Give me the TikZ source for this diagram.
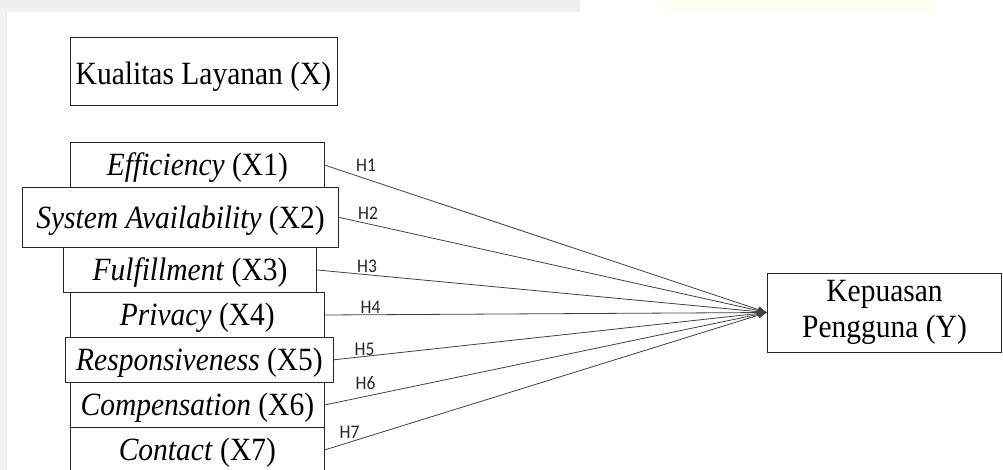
\documentclass[tikz,border=0pt]{standalone}
\usepackage{fontspec}
\setmainfont{Liberation Serif}
\newfontfamily\labfont{Carlito}
\usetikzlibrary{arrows.meta}
\newcommand\vstretch[1]{\scalebox{1}[1.1]{#1}}
\tikzset{
  box/.style={draw=black!85, line width=0.9pt, fill=white, inner sep=0pt,
    text height=21.7pt, text depth=0pt, font=\fontsize{29.5}{32.5}\selectfont},
  link/.style={draw=black!75, line width=0.8pt, -{Latex[length=9pt,width=7pt]}},
  hlab/.style={font=\labfont\fontsize{17.5}{19}\selectfont, inner sep=0pt, text=black!85},
}
\begin{document}
\begin{tikzpicture}[x=1pt,y=-1pt]
\useasboundingbox (0,0) rectangle (1003,470);
\clip (0,0) rectangle (1003,470);
% faint page background
\fill[black!6] (0,0) rectangle (580,12);
\fill[yellow!6] (660,0) rectangle (935,12);
\fill[black!5] (0,12) rectangle (7,470);

\node[box, minimum width=267pt, minimum height=68pt, text height=27.7pt] (kx) at (203.5,71) {\vstretch{Kualitas Layanan (X)}};

\node[box, minimum width=253.3pt, minimum height=44.6pt] (x1) at (197.35,165) {\vstretch{\textit{Efficiency} (X1)}};
\node[box, minimum width=315.6pt, minimum height=60pt] (x2) at (180.5,217.3) {\vstretch{\textit{System Availability} (X2)}};
\node[box, minimum width=253.4pt, minimum height=45.4pt] (x3) at (190,270) {\vstretch{\textit{Fulfillment} (X3)}};
\node[box, minimum width=253.3pt, minimum height=44.6pt] (x4) at (197.35,315) {\vstretch{\textit{Privacy} (X4)}};
\node[box, minimum width=267.6pt, minimum height=45pt] (x5) at (199.5,359.8) {\vstretch{\textit{Responsiveness} (X5)}};
\node[box, minimum width=253.3pt, minimum height=45.4pt] (x6) at (197.35,405) {\vstretch{\textit{Compensation} (X6)}};
\node[box, minimum width=253.3pt, minimum height=44.6pt] (x7) at (197.35,450) {\vstretch{\textit{Contact} (X7)}};

\node[box, minimum width=234pt, minimum height=79pt, text height=, text depth=] (y) at (884.5,312.5)
  {\raisebox{-2.3pt}{\vstretch{\begin{tabular}{@{}c@{}}Kepuasan\\Pengguna (Y)\end{tabular}}}};

\foreach \i in {1,...,7} { \draw[link] (x\i.east) -- (y.west); }

\node[hlab] (h1) at (366,165) {\vstretch{H1}};
\node[hlab] (h2) at (368,213) {\vstretch{H2}};
\node[hlab] (h3) at (367,266) {\vstretch{H3}};
\node[hlab] (h4) at (370.5,307) {\vstretch{H4}};
\node[hlab] (h5) at (364.5,349) {\vstretch{H5}};
\node[hlab] (h6) at (365.5,383.5) {\vstretch{H6}};
\node[hlab] (h7) at (349.5,432) {\vstretch{H7}};
\end{tikzpicture}
\end{document}
